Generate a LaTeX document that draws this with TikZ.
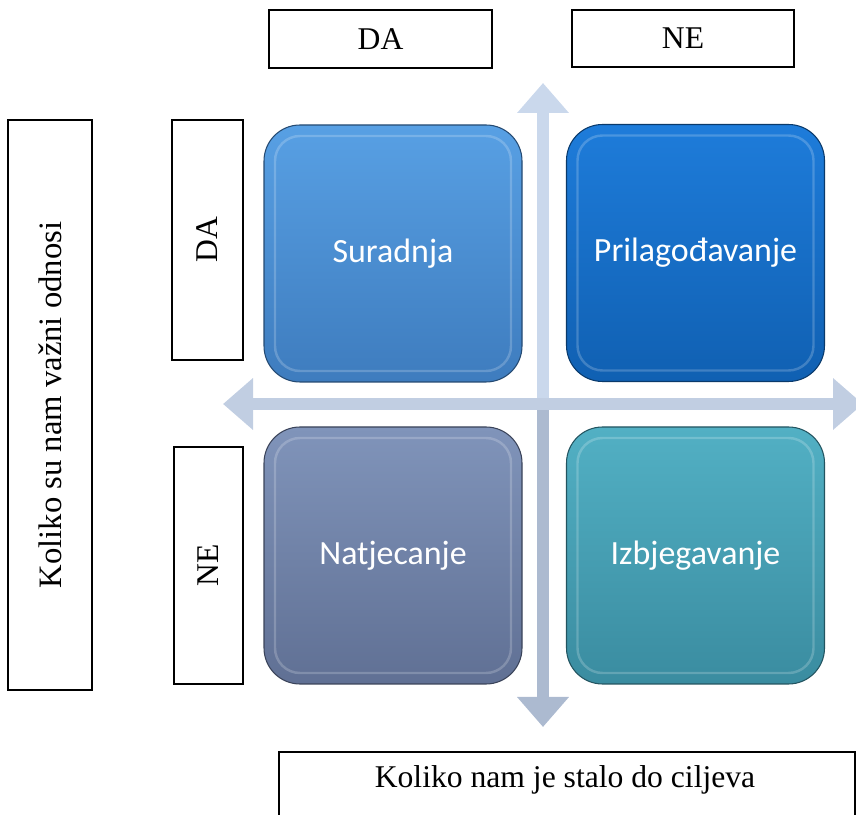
\documentclass[tikz,border=0pt]{standalone}
\usepackage{fontspec}
\setmainfont{Liberation Serif}
\newfontfamily\quadfont{Carlito}
\usetikzlibrary{arrows.meta}
\definecolor{surtop}{RGB}{88,160,228}
\definecolor{surbot}{RGB}{62,124,190}
\definecolor{pritop}{RGB}{30,124,218}
\definecolor{pribot}{RGB}{16,96,178}
\definecolor{nattop}{RGB}{128,148,186}
\definecolor{natbot}{RGB}{96,112,148}
\definecolor{izbtop}{RGB}{82,176,196}
\definecolor{izbbot}{RGB}{58,140,160}
\definecolor{axislight}{RGB}{202,216,236}
\definecolor{axisdark}{RGB}{172,186,208}
\definecolor{axismid}{RGB}{193,206,226}

\begin{document}
\begin{tikzpicture}[
  >={Triangle[width=1.0cm,length=0.6cm]},
  labelbox/.style={draw, line width=0.6pt, inner sep=0pt, font=\fontsize{18}{22}\selectfont},
  quad/.style={rounded corners=0.72cm, minimum width=5.16cm, minimum height=5.14cm, line width=0.6pt, text=white, font=\quadfont\fontsize{19.3}{23}\selectfont,
    path picture={\draw[white, opacity=0.2, line width=1.4pt, rounded corners=0.5cm] ([shift={(0.22,-0.22)}]path picture bounding box.north west) rectangle ([shift={(-0.22,0.22)}]path picture bounding box.south east);}},
  axis/.style={line width=0.24cm}
]
\useasboundingbox (0,0) rectangle (17.12,16.28);
\clip (0,0) rectangle (17.12,16.28);

% Axes
\coordinate (vtop) at (10.86,14.62);
\coordinate (vbot) at (10.86,1.74);
\coordinate (hleft) at (4.46,8.20);
\coordinate (hright) at (17.26,8.20);
\coordinate (cross) at (10.86,8.20);
\draw[axis, axislight, ->] (cross) -- (vtop);
\draw[axis, axisdark, ->] (cross) -- (vbot);
\draw[axis, axismid, <->] (hleft) -- (hright);

% Header boxes
\node[labelbox, minimum width=4.46cm, minimum height=1.16cm] (topda) at (7.61,15.50) {DA};
\node[labelbox, minimum width=4.44cm, minimum height=1.14cm] (topne) at (13.66,15.51) {NE};

% Side boxes
\node[labelbox, rotate=90, minimum width=11.40cm, minimum height=1.68cm, font=\fontsize{18.6}{22}\selectfont] (yaxis) at (1.00,8.18) {Koliko su nam važni odnosi};
\node[labelbox, rotate=90, minimum width=4.80cm, minimum height=1.42cm] (sideda) at (4.15,11.48) {DA};
\node[labelbox, rotate=90, minimum width=4.74cm, minimum height=1.38cm] (sidene) at (4.17,4.97) {NE};

% Bottom box (runs off the page)
\draw[line width=0.6pt] (5.58,-0.5) rectangle (17.10,1.24);
\node[font=\fontsize{18}{22}\selectfont] (xaxis) at (11.30,0.68) {Koliko nam je stalo do ciljeva};

% Quadrants
\node[quad, top color=surtop, bottom color=surbot, draw=surbot!60!black] (sur) at (7.86,11.21) {Suradnja};
\node[quad, top color=pritop, bottom color=pribot, draw=pribot!60!black] (pri) at (13.91,11.22) {Prilagođavanje};
\node[quad, top color=nattop, bottom color=natbot, draw=natbot!60!black] (nat) at (7.86,5.17) {Natjecanje};
\node[quad, top color=izbtop, bottom color=izbbot, draw=izbbot!60!black] (izb) at (13.91,5.17) {Izbjegavanje};
\end{tikzpicture}
\end{document}
